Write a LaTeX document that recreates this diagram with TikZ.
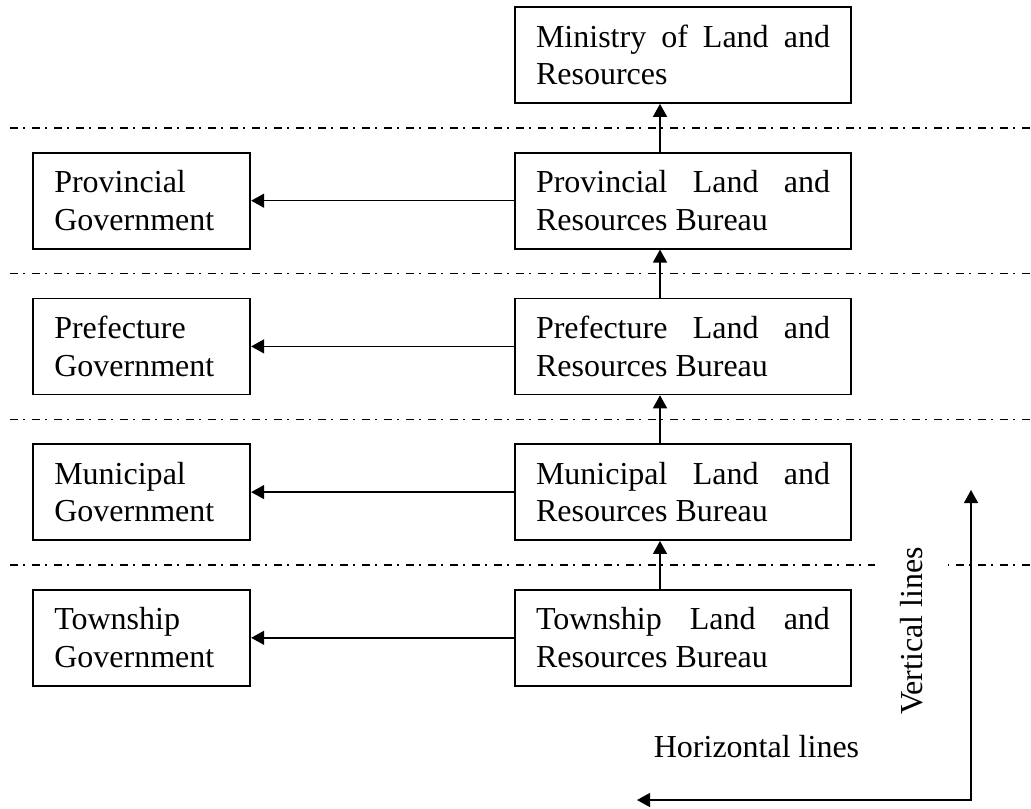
\documentclass[tikz,border=0pt]{standalone}
\usepackage{fontspec}
\setmainfont{Liberation Serif}
\usetikzlibrary{arrows.meta,positioning,calc}
\newcommand{\bureaufont}{\fontsize{16}{18.8}\selectfont}
\hyphenpenalty=10000
\exhyphenpenalty=10000
\tolerance=10000

\begin{document}
\begin{tikzpicture}[
			rec/.style    = {draw, font=\bureaufont, rectangle, line width=0.85pt, minimum height=48pt, inner xsep=10.5pt, inner ysep=0pt},
			bureau/.style = {rec, align=justify, text width=147pt},
			gov/.style    = {rec, align=left, text width=87.5pt},
			level line/.style = {line width=0.65pt, dash pattern=on 4pt off 2.5pt on 1pt off 3.5pt},
			arrow line/.style = {line width=0.7pt},
			axis label/.style = {font=\bureaufont},
			node distance=24pt and 131.5pt,
			>={Triangle[length=6.5pt,width=7pt]}]

	\useasboundingbox (0,0) rectangle (515.5pt,-404pt);

	% the bureau column, top to bottom
	\node[bureau] (m) at (341.5pt,-27.5pt) {Ministry of Land and Resources};
	\node[bureau, below=of m] (pb) {Provincial Land and Resources Bureau};
	\node[bureau, below=of pb] (fb) {Prefecture Land and Resources Bureau};
	\node[bureau, below=of fb] (cb) {Municipal Land and Resources Bureau};
	\node[bureau, below=of cb] (tb) {Township Land and Resources Bureau};

	% the governments, left of their bureau
	\node[gov, left=of pb] (pg) {Provincial Government};
	\node[gov, left=of fb] (fg) {Prefecture Government};
	\node[gov, left=of cb] (cg) {Municipal Government};
	\node[gov, left=of tb] (tg) {Township Government};

	% level lines between the rows
	\coordinate (lx) at (5pt,0);
	\coordinate (rx) at (515.5pt,0);
	\foreach \a/\b in {m/pb, pb/fb, fb/cb, cb/tb}{
		\path ($(\a.south)!0.5!(\b.north)$) coordinate (mid);
		\draw[level line] (mid -| lx) -- (mid -| rx);
	}

	% upward arrows and arrows to the governments
	\foreach \a/\b in {pb/m, fb/pb, cb/fb, tb/cb}
	\draw[->, arrow line] ([xshift=-11.5pt]\a.north) -- ([xshift=-11.5pt]\b.south);

	\foreach \a/\b in {pb/pg, fb/fg, cb/cg, tb/tg}
	\draw[->, arrow line] (\a.west) -- (\b.east);

	% the two directions
	\node[axis label, rotate=90, fill=white, inner ysep=12.8pt] (vl) at (455.75pt,-315.5pt) {Vertical lines};
	\node[axis label] (hl) at (378.25pt,-373.5pt) {Horizontal lines};
	\coordinate (vtip) at (485.5pt,-245pt);
	\coordinate (htip) at (318.5pt,-400pt);
	\draw[<->, arrow line] (vtip) |- (htip);
\end{tikzpicture}
\end{document}
